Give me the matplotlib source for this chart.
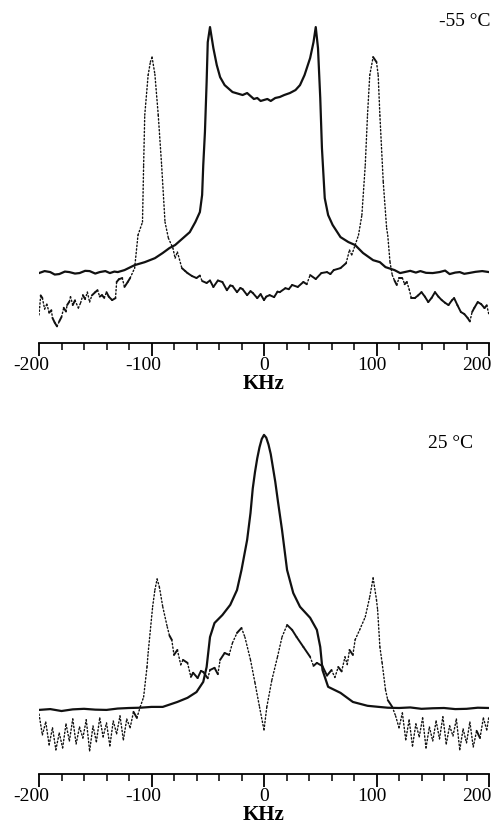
import numpy as np
import matplotlib
matplotlib.use("Agg")
import matplotlib.pyplot as plt
from matplotlib.collections import LineCollection
from matplotlib.ticker import MultipleLocator
from matplotlib.transforms import ScaledTranslation

# ---------------- data (frequency in kHz, intensity in arbitrary units) ----------------
# -55 °C : solid trace
top_solid_khz = [-200, -195, -190, -186, -182, -177, -173, -168, -164, -159, -155, -150, -146, -141,
                 -137, -133, -130, -124, -115, -106, -97, -90,
                 -84, -79, -72, -66, -61, -57, -55, -54, -52.5, -51, -50, -48, -45, -42, -39, -35,
                 -28, -19, -15, -12, -9, -6, -3, 0, 3, 6, 10, 14, 18, 23, 28, 32, 36, 41, 44, 46, 48, 50,
                 51.5, 54, 57, 61, 68, 75, 81, 88, 97, 103, 108, 116, 121, 125, 130, 135, 139, 144, 150,
                 156, 161, 165, 170, 174, 178, 182, 188, 194, 200]
top_solid_int = [0.0, 0.8, 0.4, -0.6, -0.4, 0.6, 0.4, -0.2, 0.0, 0.9, 0.8, -0.2, 0.4, 0.8,
                 0.0, 0.6, 0.4, 1.2, 3.2, 4.4, 6.0, 8.1,
                 10.1, 11.3, 14.1, 16.5, 20.6, 24.6, 31.5, 43.5, 56.9, 77.0, 93.1, 99.2, 90.7, 83.9, 79.0, 75.8,
                 73.0, 71.8, 72.6, 71.4, 70.2, 70.6, 69.4, 69.8, 70.2, 69.4, 70.6, 71.0, 71.8, 72.6, 73.8, 75.8,
                 79.8, 86.7, 93.1, 99.2, 90.7, 70.6,
                 50.4, 30.2, 23.4, 19.4, 14.5, 12.5, 11.3, 8.1, 5.2, 4.4, 2.4, 1.2, 0.0, 0.4, 0.9, 0.2, 0.8, 0.1, 0.0,
                 0.4, 1.0, -0.4, 0.2, 0.4, -0.3, 0.0, 0.5, 0.8, 0.4]

# -55 °C : dotted trace
top_dot_khz = [-200, -198.5, -197, -195, -193, -191, -189, -188, -186, -184, -182, -180, -178, -176,
               -175, -173, -172, -170, -168, -165, -163, -161, -159, -157, -155, -153, -150,
               -148, -146, -144, -142, -140, -138, -135, -132, -131, -129, -126, -124, -121, -119,
               -115, -112, -108, -107, -106,
               -103, -101, -99.5, -97, -94, -91, -88, -85, -81, -79, -77, -73, -70, -68, -64, -60, -57,
               -55, -51, -48, -45, -41, -37, -33, -30, -28, -24, -21, -19, -15, -12, -10, -6, -3, 0, 2,
               5, 9, 12, 14, 19, 22, 25, 30, 35, 38, 41, 46, 51, 56, 59, 62, 68, 73, 76, 78, 81, 84,
               87, 90, 92, 94, 97, 100, 101.5, 103, 106, 109, 110, 112, 114, 116, 118, 120, 123, 125,
               127, 129, 131, 134, 137, 140, 143, 146, 149, 152, 155, 158, 161, 164, 167, 169, 172,
               175, 178, 181, 183, 185, 187, 190, 193, 196, 198, 200]
top_dot_int = [-16.9, -9.0, -10.1, -14.5, -12.5, -16.0, -15.0, -18.1, -20.0, -21.5, -19.5, -17.7, -14.0, -15.5,
               -12.9, -11.5, -9.5, -12.9, -11.0, -14.1, -12.0, -8.9, -10.5, -7.7, -11.7, -9.0, -7.7,
               -6.9, -9.5, -8.9, -10.0, -7.7, -9.5, -10.9, -10.1, -3.6, -2.5, -2.0, -5.6, -3.5, -2.0,
               2.0, 15.3, 20.6, 43.5, 63.7,
               79.8, 85.1, 87.1, 80.2, 63.7, 43.5, 20.6, 14.1, 10.1, 6.0, 8.5, 2.0, 0.8, 0.0, -1.2, -2.0, -1.0,
               -3.2, -4.0, -3.0, -5.6, -3.0, -3.6, -6.9, -5.0, -5.2, -7.7, -6.0, -6.5, -8.9, -7.3, -8.0, -10.1,
               -8.5, -10.9, -9.5, -8.9, -9.7, -7.5, -7.7, -6.1, -6.5, -4.8, -5.6, -3.6, -4.5, -0.8, -2.4, 0.0,
               0.4, -0.4, 1.2, 2.0, 4.0, 9.3, 7.3, 11.3, 15.3,
               23.4, 43.5, 63.7, 79.8, 87.1, 85.1, 79.8, 63.7, 36.7, 18.1, 15.3, 4.4, -0.8, -3.0, -4.8, -2.0,
               -2.0, -4.5, -3.6, -6.5, -10.1, -10.1, -9.0, -7.7, -9.5, -11.7, -10.0, -7.7, -9.5, -10.9,
               -12.0, -12.9, -11.0, -10.1, -13.0, -15.7, -16.5, -18.1, -19.5, -15.7, -14.0, -11.7, -12.5, -14.1,
               -13.0, -16.9]

# 25 °C : solid trace
bot_solid_khz = [-200, -190, -180, -170, -160, -150, -140, -130, -120, -110, -100, -90, -77, -68, -60,
                 -54, -51, -48, -44, -37, -30, -24, -20, -15, -12, -10, -8, -6, -4, -2, 0, 2, 4, 6,
                 8, 10, 12.5, 16, 20.5, 26, 32, 41, 47, 50, 52, 57, 68, 79, 92, 102, 110, 120, 130,
                 140, 150, 160, 170, 180, 190, 200]
bot_solid_int = [0.0, 0.3, -0.4, 0.2, 0.4, 0.1, 0.0, 0.5, 0.7, 0.8, 1.1, 1.1, 2.9, 4.4, 6.5,
                 10.2, 15.6, 26.5, 31.6, 34.5, 38.2, 43.6, 50.9, 61.8, 71.6, 80.5, 86.5, 91.5, 95.5, 98.5, 100.0, 99.0, 96.5, 93.0,
                 88.0, 83.0, 75.5, 65.5, 50.9, 42.5, 37.5, 33.5, 29.1, 22.9, 14.5, 8.4, 6.2, 2.9, 1.5, 1.1, 0.8, 0.7, 0.9,
                 0.4, 0.6, 0.7, 0.3, 0.4, 0.8, 0.7]

# 25 °C : dotted trace
bot_dot_khz = [-200, -197, -194, -191, -188, -185, -182, -179, -176, -173, -170, -167, -164, -161, -158,
               -155, -152, -149, -146, -143, -140, -137, -134, -131, -128, -125, -122, -119, -116, -113,
               -110, -107, -104, -103, -99, -97, -95, -93, -90, -86, -84, -82, -80, -77, -74, -72, -68,
               -65, -63, -59, -56, -54, -50, -48, -44, -41, -39, -35, -31, -28, -24, -20, -17, -12, -8,
               -4, 0, 2.5, 7, 12, 16, 20.5, 25, 29, 35, 41, 44, 47, 52, 56, 60, 63, 66, 69, 72, 74, 76,
               79, 81, 85, 90, 94, 97, 100, 101, 103, 105, 108, 110, 114, 117, 120, 123, 126, 129, 132,
               135, 138, 141, 144, 147, 150, 153, 156, 159, 162, 165, 168, 171, 174, 177, 180, 183, 186,
               189, 192, 195, 198, 200]
bot_dot_int = [-1.5, -9.1, -4.4, -12.7, -6.5, -14.5, -8.4, -13.8, -5.1, -11.3, -3.3, -12.4, -6.2, -10.2, -3.6,
               -14.9, -5.8, -11.6, -2.9, -9.8, -4.7, -13.1, -4.0, -8.7, -2.2, -10.9, -3.3, -6.5, -0.7, -2.9,
               1.1, 4.7, 15.6, 20.7, 37.5, 43.6, 47.6, 44.7, 37.5, 30.2, 27.0, 25.5, 20.0, 21.8, 16.4, 18.2, 17.1,
               12.0, 13.5, 11.6, 14.2, 13.8, 11.5, 14.5, 15.3, 13.0, 18.2, 20.7, 20.0, 24.4, 28.0, 29.8, 26.5, 18.2, 9.8,
               1.1, -7.3, 1.1, 10.9, 19.3, 26.5, 30.9, 29.1, 26.5, 22.9, 19.3, 16.0, 17.1, 15.9, 12.5, 14.5, 11.8, 15.6, 14.0, 19.3, 16.5, 21.8,
               20.0, 25.5, 29.1, 33.8, 41.1, 48.0, 40.0, 36.4, 22.9, 17.1, 7.3, 3.6, 1.1, -2.2, -6.5, -1.1, -10.9, -3.6, -13.1,
               -5.1, -9.8, -2.9, -13.8, -6.2, -11.3, -4.0, -10.5, -2.5, -12.4, -5.8, -9.5, -3.3, -14.5, -6.9, -12.0, -4.4, -13.5,
               -7.6, -10.2, -2.9, -7.3, -2.2]

tick_major = 100
tick_minor = 20
x_label = "KHz"
temp_labels = ["-55 \u00b0C", "25 \u00b0C"]

# ---------------- figure ----------------
plt.rcParams['font.family'] = ['Liberation Serif', 'DejaVu Serif']
plt.rcParams['axes.unicode_minus'] = False

fig = plt.figure(figsize=(4.98, 8.40), dpi=100)
ax1 = fig.add_axes([39/498, 1-343/840, 450/498, 338/840])
ax2 = fig.add_axes([39/498, 1-774/840, 450/498, 349/840])
ax1.set_ylim(-28.2, 108.1)
ax2.set_ylim(-23.3, 103.6)


def draw_dotted_trace(ax, x, y):
    x = np.asarray(x, float)
    y = np.asarray(y, float)
    pts = ax.transData.transform(np.column_stack([x, y]))
    dx = np.abs(np.diff(pts[:, 0]))
    dy = np.abs(np.diff(pts[:, 1]))
    steep = dy > 2.2 * dx
    p = np.column_stack([x, y])
    segs = np.stack([p[:-1], p[1:]], axis=1)
    styles = [(0, (1.0, 1.6)) if s else '-' for s in steep]
    widths = [1.0 if s else 1.4 for s in steep]
    lc = LineCollection(segs, linestyles=styles, linewidths=widths,
                        colors='#111111', capstyle='round', joinstyle='round')
    ax.add_collection(lc)


label_shift_px = [-8, -8, 0, -5, -12]

for ax, sx, sy, dxs, dys, lab, tx, ty in [
        (ax1, top_solid_khz, top_solid_int, top_dot_khz, top_dot_int, temp_labels[0], 1.003, 0.95),
        (ax2, bot_solid_khz, bot_solid_int, bot_dot_khz, bot_dot_int, temp_labels[1], 0.965, 0.946)]:
    ax.set_xlim(-200, 200)
    ax.plot(sx, sy, color='#111111', lw=1.6, solid_joinstyle='round')
    draw_dotted_trace(ax, dxs, dys)
    for s in ['left', 'right', 'top']:
        ax.spines[s].set_visible(False)
    ax.spines['bottom'].set_linewidth(1.3)
    ax.yaxis.set_visible(False)
    ax.set_xticks([-200, -100, 0, 100, 200])
    ax.xaxis.set_minor_locator(MultipleLocator(tick_minor))
    ax.tick_params(axis='x', which='major', length=9, width=1.3, direction='out',
                   labelsize=14, pad=1)
    ax.tick_params(axis='x', which='minor', length=5, width=1.1, direction='out')
    for lbl, sh in zip(ax.get_xticklabels(), label_shift_px):
        lbl.set_transform(lbl.get_transform() + ScaledTranslation(sh / 100, 0, fig.dpi_scale_trans))
    ax.set_xlabel(x_label, fontsize=15, fontweight='bold', labelpad=0)
    ax.text(tx, ty, lab, transform=ax.transAxes, ha='right', va='center', fontsize=14)
    ax.patch.set_alpha(0)

fig.savefig("out.png", dpi=100)
